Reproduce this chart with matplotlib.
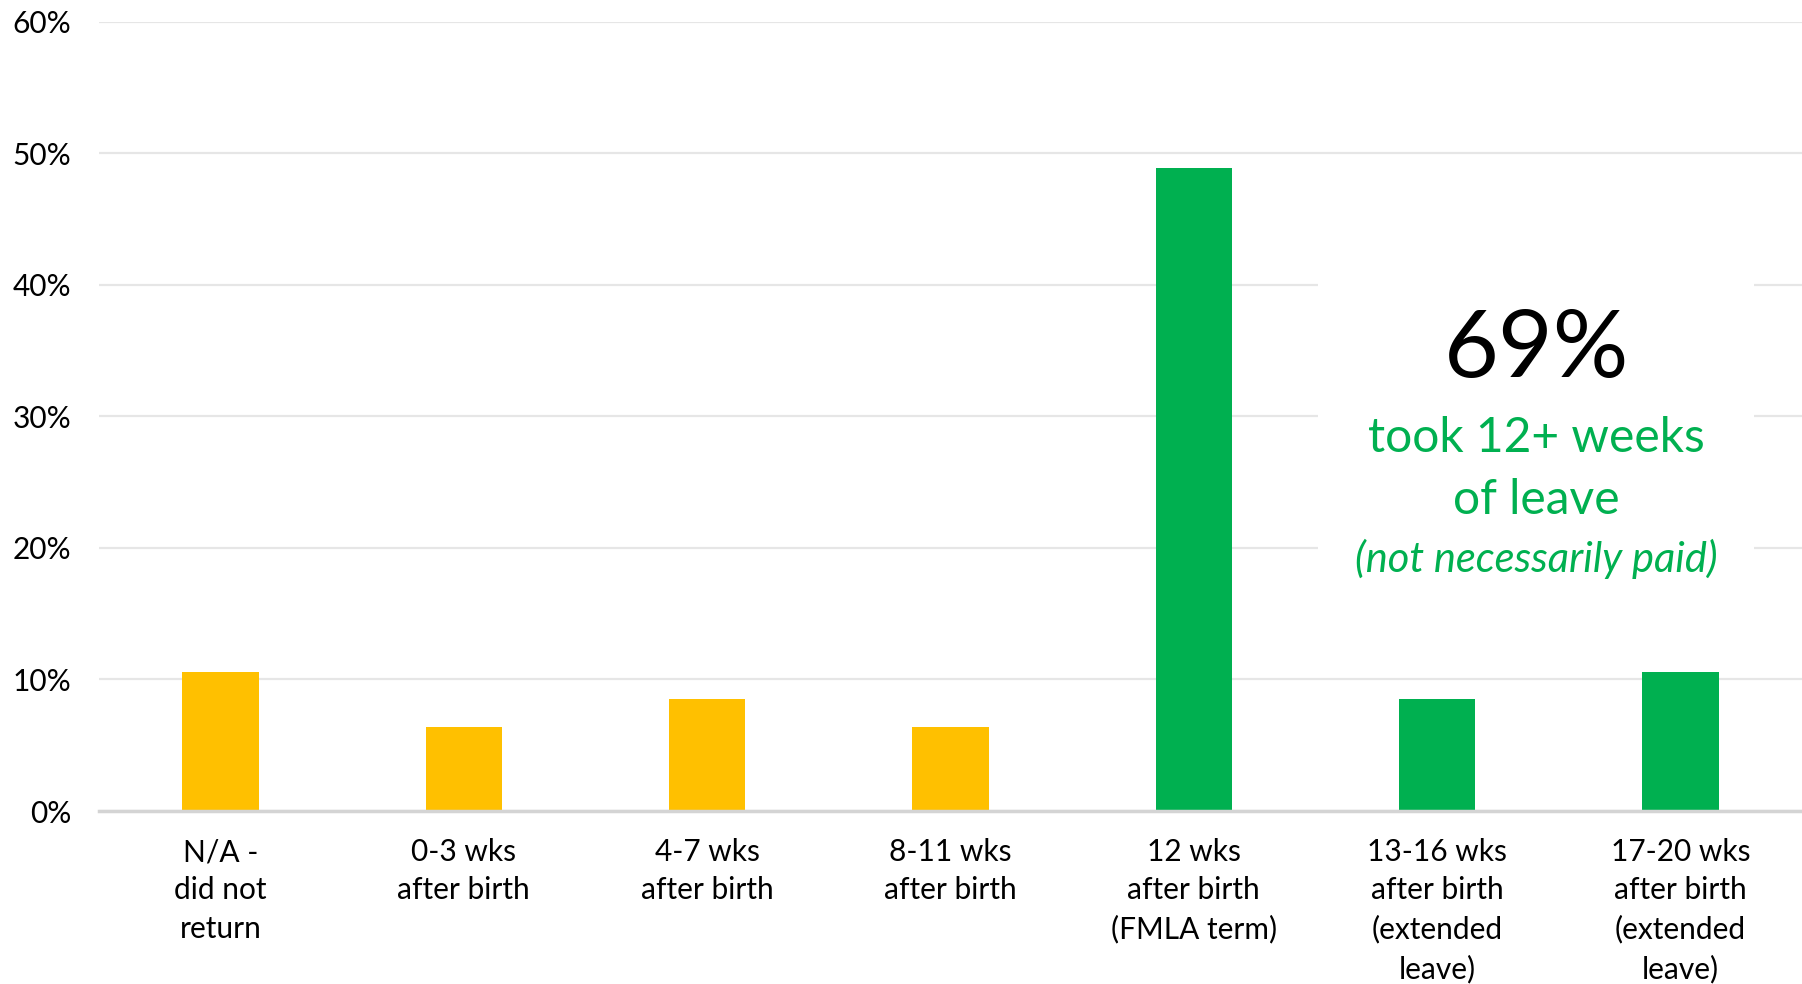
import matplotlib
matplotlib.use("Agg")
import matplotlib.pyplot as plt
from matplotlib.patches import Rectangle

plt.rcParams['font.family'] = ['Lato', 'DejaVu Sans']

categories = ["N/A -\ndid not\nreturn", "0-3 wks\nafter birth", "4-7 wks\nafter birth",
              "8-11 wks\nafter birth", "12 wks\nafter birth\n(FMLA term)",
              "13-16 wks\nafter birth\n(extended\nleave)", "17-20 wks\nafter birth\n(extended\nleave)"]
values = [10.6, 6.4, 8.5, 6.4, 48.9, 8.5, 10.6]
took_12_plus = [False, False, False, False, True, True, True]
yticks = [0, 10, 20, 30, 40, 50, 60]
ytick_labels = ["0%", "10%", "20%", "30%", "40%", "50%", "60%"]

yellow = "#FFC000"
green = "#00B050"
colors = [green if t else yellow for t in took_12_plus]

fig = plt.figure(figsize=(18.02, 9.84), dpi=100)
ax = fig.add_axes([0.0549, 0.1758, 0.9451, 0.802])

x = range(len(categories))
ax.bar(x, values, width=0.314, color=colors, zorder=3)

ax.set_xlim(-0.5, len(categories) - 0.5)
ax.set_ylim(0, 60)
ax.set_yticks(yticks)
ax.set_yticklabels(ytick_labels)
ax.set_xticks(list(x))
ax.set_xticklabels(categories, linespacing=1.45)

ax.grid(axis="y", color="#e6e6e6", linewidth=1.6, zorder=0)
ax.set_axisbelow(True)
for s in ["top", "right", "left"]:
    ax.spines[s].set_visible(False)
ax.spines["bottom"].set_color("#d4d4d4")
ax.spines["bottom"].set_linewidth(2.5)
ax.spines["bottom"].set_zorder(4)

ax.tick_params(axis="y", length=0, pad=20, labelsize=21.5)
ax.tick_params(axis="x", length=0, pad=19.5, labelsize=21.5)

# white box over gridlines behind the callout
ax.add_patch(Rectangle((0.716, 0.27), 0.256, 0.43, transform=ax.transAxes,
                       facecolor="white", edgecolor="none", zorder=2))

ax.text(0.844, 0.583, "69%", transform=ax.transAxes, ha="center", va="center",
        fontsize=68, color="black", zorder=5)
ax.text(0.844, 0.433, "took 12+ weeks\nof leave", transform=ax.transAxes, ha="center",
        va="center", fontsize=34.5, color=green, linespacing=1.5, zorder=5)
ax.text(0.844, 0.320, "(not necessarily paid)", transform=ax.transAxes, ha="center",
        va="center", fontsize=30, color=green, style="italic", zorder=5)

fig.savefig("out.png", dpi=100)
